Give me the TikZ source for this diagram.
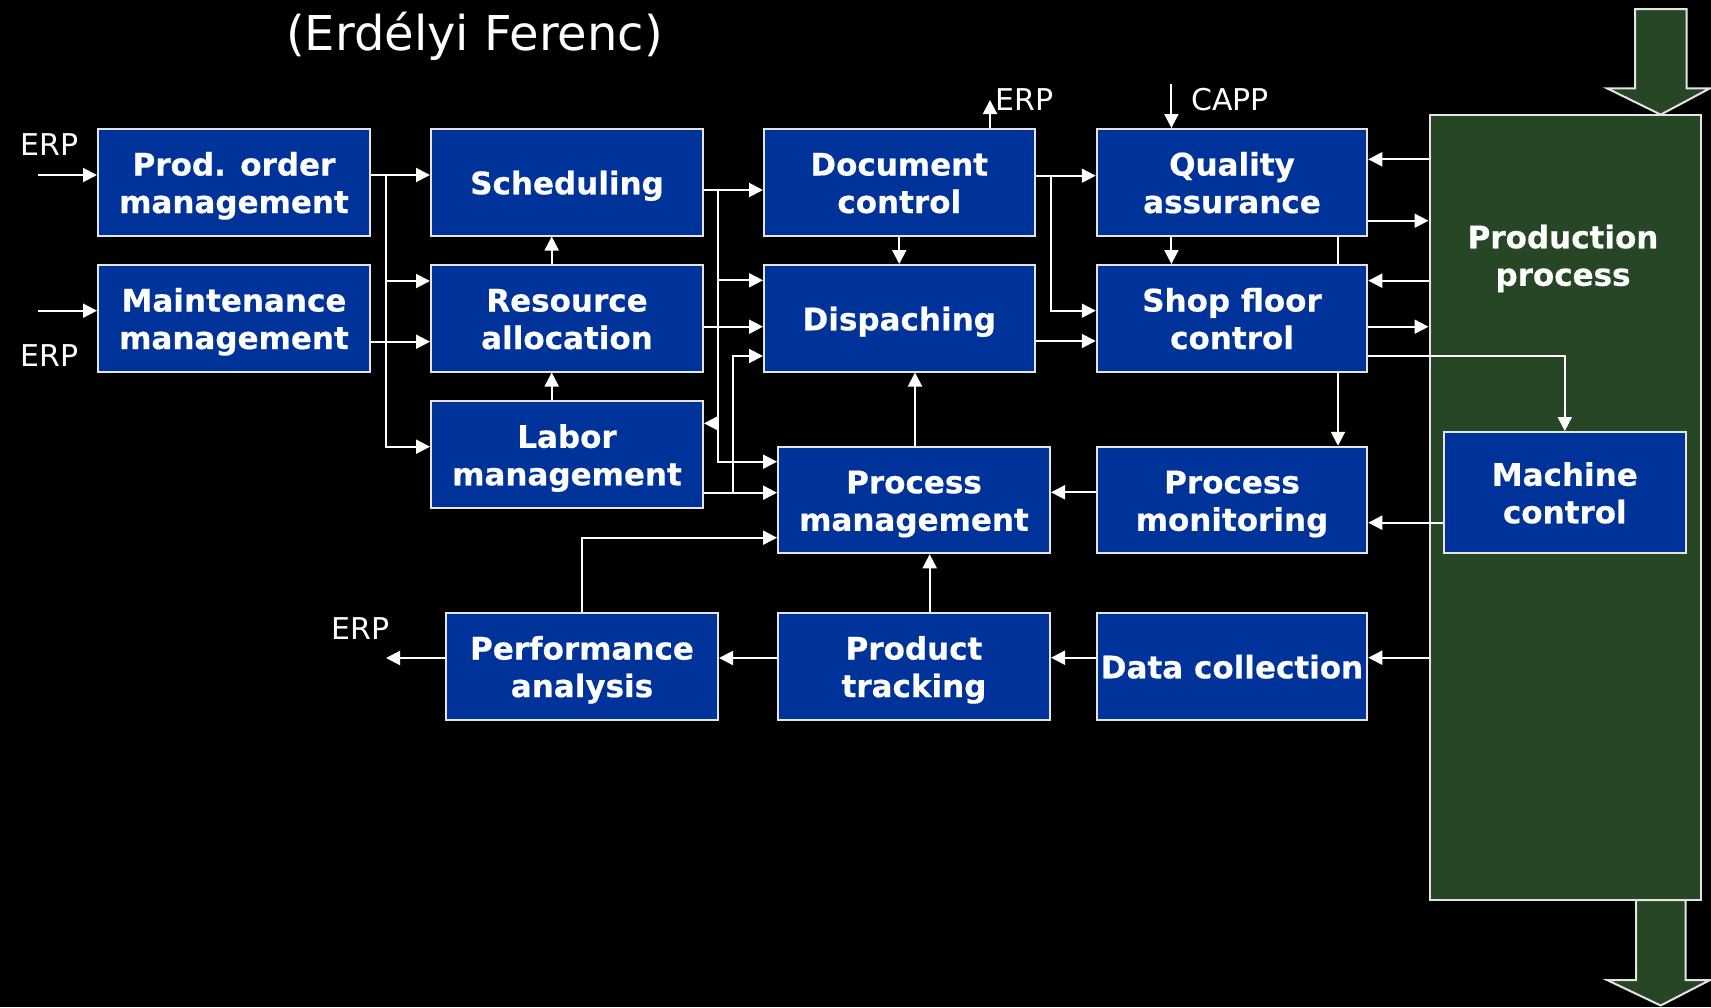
\documentclass[tikz,border=0pt]{standalone}
\usepackage{fontspec}
\setmainfont{DejaVu Sans}
\newfontfamily\bxfam{DejaVu Sans Bold}[FakeBold=0.5]
\usetikzlibrary{arrows.meta}
\definecolor{boxblue}{RGB}{0,51,153}
\definecolor{ppgreen}{RGB}{38,70,38}
\definecolor{boxborder}{RGB}{228,228,228}
\newcommand{\boxfont}{\fontsize{31}{37.5}\selectfont\bxfam}
\newcommand{\lblfont}{\fontsize{30}{36}\selectfont}
\newcommand{\tl}{\rule{0pt}{32pt}}
\newcommand{\bl}{\rule[-8pt]{0pt}{8pt}}
\tikzset{
  blubox/.style={draw=boxborder, line width=2pt, fill=boxblue, minimum width=272pt, minimum height=106.5pt, inner sep=0pt, align=center, text=white, font=\boxfont},
  arr/.style={draw=white, line width=2pt, -{Triangle[length=14pt,width=14pt]}},
  ln/.style={draw=white, line width=2pt},
  lbl/.style={anchor=base west, inner sep=0pt, text=white, font=\lblfont},
  bigarrow/.style={draw=boxborder, line width=2pt, fill=ppgreen, line join=miter}
}
\begin{document}
\begin{tikzpicture}[x=1pt,y=-1pt]
\useasboundingbox[fill=black] (0,0) rectangle (1711,1007);

% title
\node[anchor=base west, inner sep=0pt, text=white, font=\fontsize{48}{58}\selectfont] (title) at (286,50) {(Erdélyi Ferenc)};

% production process column and big arrows
\draw[bigarrow] (1635,9) -- (1686.7,9) -- (1686.7,88.3) -- (1710,88.3) -- (1660.7,114.6) -- (1607,88.3) -- (1635,88.3) -- cycle;
\draw[bigarrow] (1636,900) -- (1685.7,900) -- (1685.7,980) -- (1710,980) -- (1660.7,1005.5) -- (1607,980) -- (1636,980) -- cycle;
\node[draw=boxborder, line width=2pt, fill=ppgreen, minimum width=271.5pt, minimum height=785.4pt, inner sep=0pt] (pp) at (1565.25,507.3) {};
\node[inner sep=0pt, align=center, text=white, font=\boxfont] (pplabel) at (1563,255) {\tl Production\\process\bl};

% blue boxes
\node[blubox] (prod)  at (234,182.25)   {\tl Prod. order\\management\bl};
\node[blubox] (maint) at (234,318.25)   {\tl Maintenance\\management\bl};
\node[blubox] (sched) at (567,182.25)   {\tl Scheduling\bl};
\node[blubox] (res)   at (567,318.25)   {\tl Resource\\allocation\bl};
\node[blubox] (labor) at (567,454.5)    {\tl Labor\\management\bl};
\node[blubox, minimum width=270.5pt] (doc)   at (899.25,182.25) {\tl Document\\control\bl};
\node[blubox, minimum width=270.5pt] (disp)  at (899.25,318.25) {\tl Dispaching\bl};
\node[blubox] (pm)    at (914,500)      {\tl Process\\management\bl};
\node[blubox, minimum width=270.5pt] (qa)    at (1232,182.25)   {\tl Quality\\assurance\bl};
\node[blubox, minimum width=270.5pt] (sfc)   at (1232,318.25)   {\tl Shop floor\\control\bl};
\node[blubox, minimum width=270.5pt] (pmon)  at (1232,500)      {\tl Process\\monitoring\bl};
\node[blubox, minimum width=242.4pt, minimum height=121pt] (mc) at (1564.8,492.5) {\tl Machine\\control\bl};
\node[blubox] (perf)  at (582,666.3)    {\tl Performance\\analysis\bl};
\node[blubox] (pt)    at (914,666.3)    {\tl Product\\tracking\bl};
\node[blubox, minimum width=270.5pt] (dc)    at (1232,666.3)    {\tl Data collection\bl};

% labels
\node[lbl] (lerp1) at (20.7,155) {ERP};
\node[lbl] (lerp2) at (20.7,366.7) {ERP};
\node[lbl] (lerp3) at (995,110) {ERP};
\node[lbl] (lcapp) at (1191,110) {CAPP};
\node[lbl] (lerp4) at (331,639) {ERP};

% free ends and junctions
\coordinate (erp1) at (37.7,175);
\coordinate (erp2) at (37.7,310.7);
\coordinate (erp3) at (990,100);
\coordinate (capp) at (1171.4,84);
\coordinate (erp4) at (386,658);
\coordinate (j1) at (385.7,175);
\coordinate (j2) at (718.3,190);
\coordinate (j3) at (719,423.3);
\coordinate (j4) at (733.3,492.7);
\coordinate (j5) at (1050.7,175.7);

% left inputs
\draw[arr] (erp1) -- (prod.west |- erp1);
\draw[arr] (erp2) -- (maint.west |- erp2);

% prod order / maintenance
\draw[arr] (prod.east |- j1) -- (sched.west |- j1);
\draw[arr] (j1) |- (res.west |- 0,281);
\draw[arr] (j1) |- (labor.west |- 0,446.7);
\draw[arr] (maint.east |- 0,341.7) -- (res.west |- 0,341.7);

% vertical between left-middle column
\draw[arr] (res.north -| 551.7,0) -- (sched.south -| 551.7,0);
\draw[arr] (labor.north -| 551.7,0) -- (res.south -| 551.7,0);

% scheduling outputs
\draw[arr] (sched.east |- j2) -- (doc.west |- j2);
\draw[arr] (j2) |- (disp.west |- 0,280.3);
\draw[arr] (j2) |- (pm.west |- 0,461.7);
\draw[arr] (j3) -- (labor.east |- j3);

% resource / labor outputs
\draw[arr] (res.east |- 0,326.7) -- (disp.west |- 0,326.7);
\draw[arr] (labor.east |- j4) -- (pm.west |- j4);
\draw[arr] (j4) |- (disp.west |- 0,356);

% performance to process management
\draw[arr] (perf.north -| 582.3,0) |- (pm.west |- 0,537.7);

% document / dispatching
\draw[arr] (doc.south) -- (disp.north);
\draw[arr] (pm.north -| 915,0) -- (disp.south -| 915,0);
\draw[arr] (doc.north -| erp3) -- (erp3);
\draw[arr] (doc.east |- j5) -- (qa.west |- j5);
\draw[arr] (j5) |- (sfc.west |- 0,310.7);
\draw[arr] (disp.east |- 0,341) -- (sfc.west |- 0,341);

% quality / shop floor
\draw[arr] (capp) -- (qa.north -| capp);
\draw[arr] (qa.south -| capp) -- (sfc.north -| capp);
\draw[ln] (qa.south -| 1338,0) -- (sfc.north -| 1338,0);
\draw[arr] (sfc.south -| 1338,0) -- (pmon.north -| 1338,0);

% production process links
\draw[arr] (pp.west |- 0,159.3) -- (qa.east |- 0,159.3);
\draw[arr] (qa.east |- 0,220.7) -- (pp.west |- 0,220.7);
\draw[arr] (pp.west |- 0,280.7) -- (sfc.east |- 0,280.7);
\draw[arr] (sfc.east |- 0,326.7) -- (pp.west |- 0,326.7);
\draw[arr] (sfc.east |- 0,356) -| (mc.north);
\draw[arr] (mc.west |- 0,522.7) -- (pmon.east |- 0,522.7);
\draw[arr] (pmon.west |- 0,492.3) -- (pm.east |- 0,492.3);
\draw[arr] (pp.west |- 0,657.7) -- (dc.east |- 0,657.7);
\draw[arr] (dc.west |- 0,657.7) -- (pt.east |- 0,657.7);
\draw[arr] (pt.west |- 0,658) -- (perf.east |- 0,658);
\draw[arr] (perf.west |- erp4) -- (erp4);
\draw[arr] (pt.north -| 929.7,0) -- (pm.south -| 929.7,0);
\end{tikzpicture}
\end{document}
